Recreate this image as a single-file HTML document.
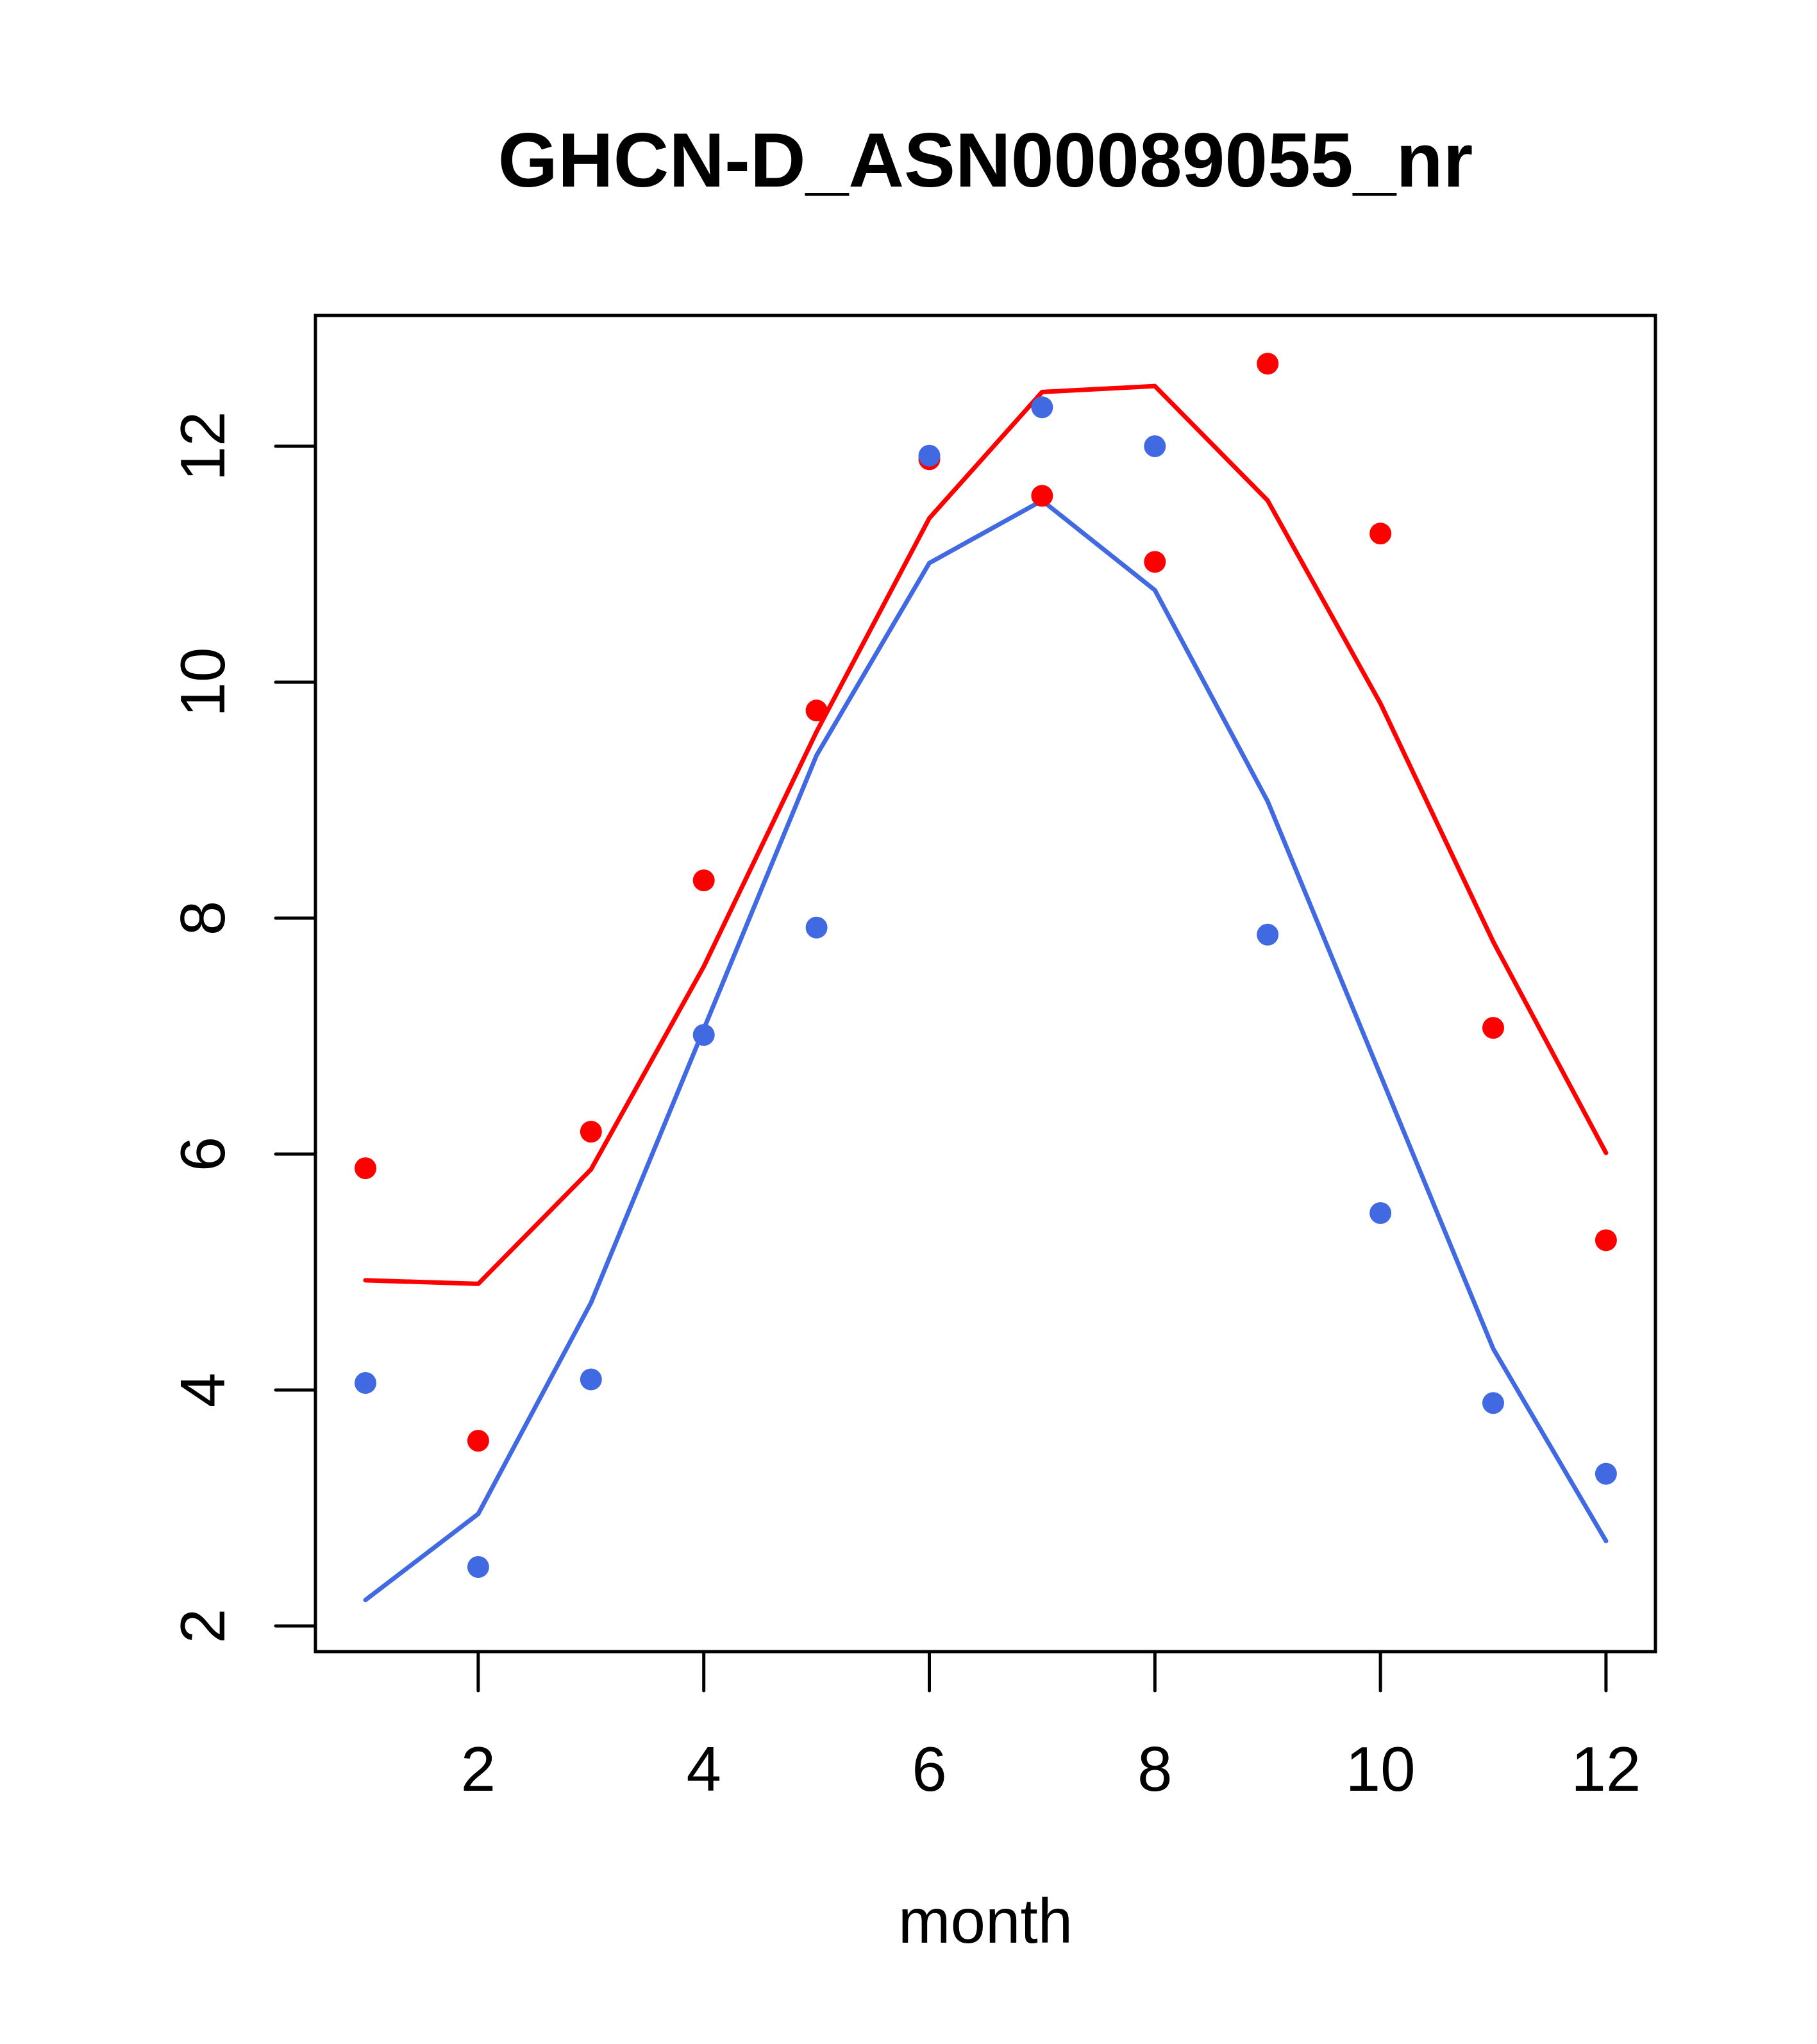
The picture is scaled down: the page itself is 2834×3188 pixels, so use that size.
<!DOCTYPE html>
<html><head><meta charset="utf-8"><style>html,body{margin:0;padding:0;background:#fff}svg{display:block}</style></head>
<body>
<svg id="chart" width="2834" height="3188" viewBox="0 0 2834 3188" xmlns="http://www.w3.org/2000/svg" font-family="Liberation Sans, Arial, sans-serif">
<rect width="2834" height="3188" fill="#fff"/>
<text x="1537" y="291" font-size="120" font-weight="bold" text-anchor="middle">GHCN-D_ASN00089055_nr</text>
<rect x="492" y="492" width="2090" height="2084" fill="none" stroke="#000" stroke-width="5"/>
<g id="xaxis"></g>
<g id="yaxis"></g>
<g id="series"></g>
<text x="1537" y="3030" font-size="98" text-anchor="middle">month</text>
</svg>
<script>
const months = [1,2,3,4,5,6,7,8,9,10,11,12];
const xTicks = [2,4,6,8,10,12];
const yTicks = [2,4,6,8,10,12];
const redLine = [4.93,4.90,5.87,7.59,9.58,11.39,12.46,12.51,11.54,9.82,7.80,6.01];
const redPoints = [5.88,3.57,6.19,8.32,9.76,11.89,11.58,11.02,12.70,11.26,7.07,5.27];
const blueLine = [2.22,2.95,4.74,7.06,9.38,11.01,11.54,10.78,8.99,6.67,4.35,2.72];
const bluePoints = [4.06,2.50,4.09,7.01,7.92,11.92,12.33,12.00,7.86,5.50,3.89,3.29];

const NS = 'http://www.w3.org/2000/svg';
function xs(v){ return 570 + (v-1)*175.9; }
function ys(v){ return 696 + (12-v)*184; }
function mk(tag, attrs, parent){ const e=document.createElementNS(NS,tag); for(const k in attrs) e.setAttribute(k,attrs[k]); parent.appendChild(e); return e; }

const xa=document.getElementById('xaxis');
xTicks.forEach(t=>{
  const l=mk('line',{x1:xs(t),x2:xs(t),y1:2576,y2:2637,stroke:'#000','stroke-width':5,'stroke-linecap':'round'},xa);
  
  
  const tx=mk('text',{x:xs(t),y:2793,'font-size':98,'text-anchor':'middle'},xa);
  tx.textContent=t;
  
  
});
const ya=document.getElementById('yaxis');
yTicks.forEach(t=>{
  const l=mk('line',{x1:430,x2:492,y1:ys(t),y2:ys(t),stroke:'#000','stroke-width':5,'stroke-linecap':'round'},ya);
  
  
  const tx=mk('text',{x:0,y:0,'font-size':98,'text-anchor':'middle',transform:`translate(350,${ys(t)}) rotate(-90)`},ya);
  tx.textContent=t;
  
  
});
const sg=document.getElementById('series');
function line(vals,color,name){
  const p=mk('polyline',{points:vals.map((v,i)=>xs(months[i])+','+ys(v)).join(' '),fill:'none',stroke:color,'stroke-width':7,'stroke-linejoin':'round','stroke-linecap':'round'},sg);
  
  
}
function pts(vals,color,name){
  vals.forEach((v,i)=>{
    const c=mk('circle',{cx:xs(months[i]),cy:ys(v),r:17,fill:color},sg);
    
    
  });
}
line(redLine,'#ff0000','red-line');
line(blueLine,'#4169e1','blue-line');
pts(redPoints,'#ff0000','red-point');
pts(bluePoints,'#4169e1','blue-point');
</script>
</body></html>
